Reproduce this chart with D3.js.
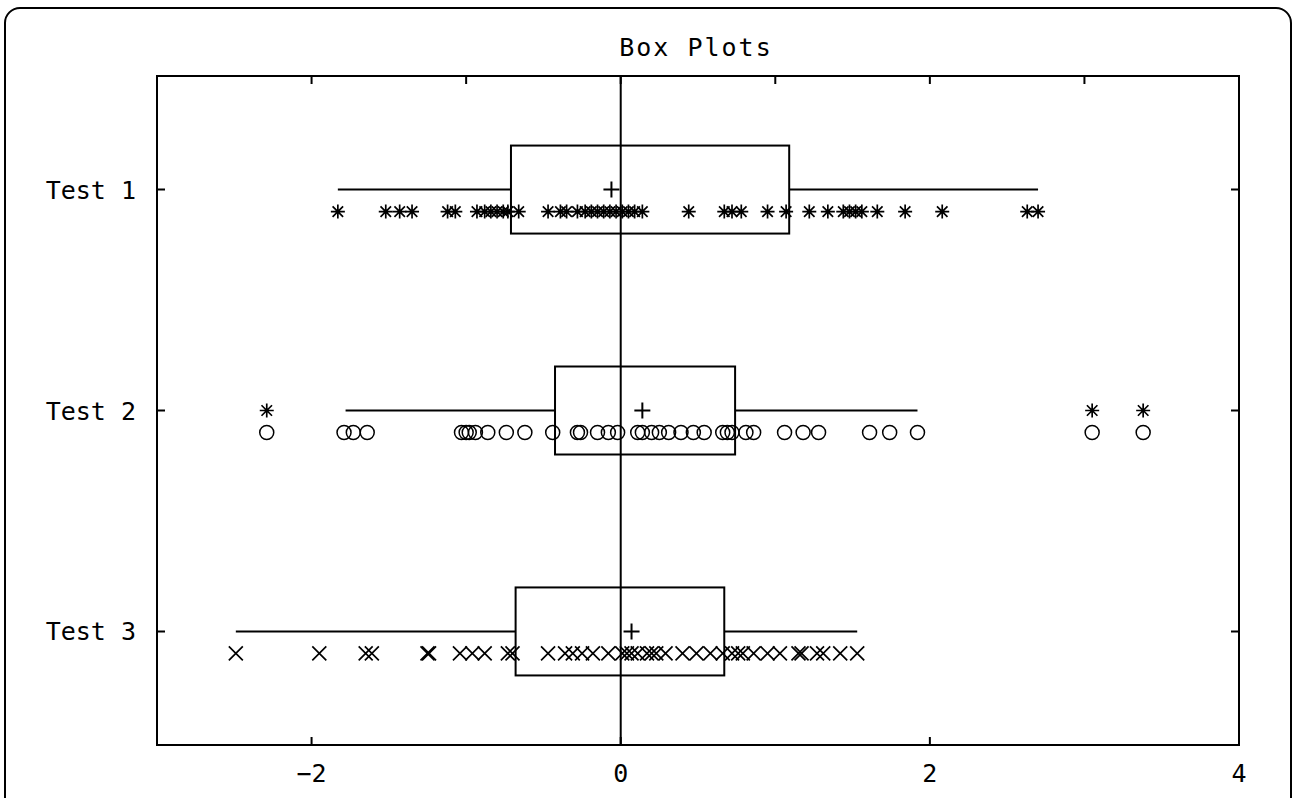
<!DOCTYPE html>
<html>
<head>
<meta charset="utf-8">
<script src="https://cdn.jsdelivr.net/npm/d3@7"></script>
<style>
  body { margin: 0; background: #fff; }
  text { font-family: "DejaVu Sans Mono", monospace; fill: #000; }
</style>
</head>
<body>
<svg class="chart"></svg>
<script>
var width = 1297,
    height = 798;

// data
var categories = ["Test 1", "Test 2", "Test 3"];
var symbols = ["star", "circle", "cross"];

var test1 = [-1.83, -1.52, -1.43, -1.35, -1.12, -1.07, -0.93, -0.88, -0.84, -0.80, -0.76, -0.73,
  -0.66, -0.47, -0.39, -0.35, -0.28, -0.23, -0.19, -0.15, -0.11, -0.07, -0.03, 0.01, 0.05, 0.09,
  0.14, 0.44, 0.67, 0.72, 0.78, 0.95, 1.07, 1.22, 1.34, 1.44, 1.48, 1.52, 1.56, 1.66, 1.84, 2.08,
  2.63, 2.70];
var test2 = [-2.29, -1.79, -1.73, -1.64, -1.03, -1.00, -0.98, -0.94, -0.86, -0.74, -0.62, -0.44,
  -0.28, -0.26, -0.15, -0.08, -0.02, 0.11, 0.14, 0.20, 0.25, 0.31, 0.39, 0.47, 0.54, 0.66, 0.69,
  0.72, 0.81, 0.86, 1.06, 1.18, 1.28, 1.61, 1.74, 1.92, 3.05, 3.38];
var test3 = [-2.49, -1.95, -1.65, -1.61, -1.25, -1.24, -1.04, -0.96, -0.88, -0.73, -0.70, -0.47,
  -0.36, -0.31, -0.25, -0.18, -0.08, 0.01, 0.04, 0.07, 0.11, 0.17, 0.20, 0.23, 0.29, 0.40, 0.49,
  0.58, 0.66, 0.72, 0.76, 0.79, 0.86, 0.95, 1.03, 1.15, 1.17, 1.27, 1.31, 1.42, 1.53];
var samples = [test1, test2, test3];

// box stats: whisker low, q1, q3, whisker high, mean
var whiskerLow = [-1.83, -1.78, -2.49];
var q1 = [-0.71, -0.425, -0.68];
var q3 = [1.09, 0.74, 0.67];
var whiskerHigh = [2.70, 1.92, 1.53];
var means = [-0.06, 0.14, 0.07];
var outliers = [[], [-2.29, 3.05, 3.38], []];

var xDomain = [-3, 4];
var topTicks = [-2, -1, 0, 1, 2, 3];
var bottomTicks = [-2, 0, 2, 4];

// plot area (window.top is read-only, so no "top" here)
var plotL = 157, plotR = 1239, plotT = 76, plotB = 745;

var x = d3.scaleLinear()
    .domain(xDomain)
    .range([plotL, plotR]);
var y = d3.scalePoint()
    .domain(categories)
    .range([plotT, plotB])
    .padding(0.514);

var chart = d3.select(".chart")
    .attr("width", width)
    .attr("height", height);

// window frame
chart.append("rect")
    .attr("x", 5).attr("y", 8)
    .attr("width", 1286).attr("height", 820)
    .attr("rx", 15)
    .attr("fill", "none")
    .attr("stroke", "#000")
    .attr("stroke-width", 2);

chart.append("text")
    .attr("x", 696)
    .attr("y", 56)
    .attr("text-anchor", "middle")
    .attr("font-size", 25)
    .attr("letter-spacing", 2)
    .text("Box Plots");

// plot frame
chart.append("rect")
    .attr("x", plotL).attr("y", plotT)
    .attr("width", plotR - plotL).attr("height", plotB - plotT)
    .attr("fill", "none")
    .attr("stroke", "#000")
    .attr("stroke-width", 2);

// zero line
chart.append("line")
    .attr("x1", x(0)).attr("x2", x(0))
    .attr("y1", plotT).attr("y2", plotB)
    .attr("stroke", "#000")
    .attr("stroke-width", 2);

// ticks
chart.selectAll(".ttick")
    .data(topTicks)
  .enter().append("line")
    .attr("x1", function(d) { return x(d); })
    .attr("x2", function(d) { return x(d); })
    .attr("y1", plotT).attr("y2", plotT + 8)
    .attr("stroke", "#000").attr("stroke-width", 2);

chart.selectAll(".btick")
    .data(bottomTicks)
  .enter().append("line")
    .attr("x1", function(d) { return x(d); })
    .attr("x2", function(d) { return x(d); })
    .attr("y1", plotB).attr("y2", plotB - 8)
    .attr("stroke", "#000").attr("stroke-width", 2);

chart.selectAll(".blabel")
    .data(bottomTicks)
  .enter().append("text")
    .attr("x", function(d) { return x(d); })
    .attr("y", 782)
    .attr("text-anchor", "middle")
    .attr("font-size", 25)
    .text(function(d) { return d < 0 ? "\u2212" + (-d) : d; });

chart.selectAll(".ytick")
    .data(categories)
  .enter().append("path")
    .attr("d", function(d) {
      return "M" + plotL + "," + y(d) + "h8M" + plotR + "," + y(d) + "h-8";
    })
    .attr("stroke", "#000").attr("stroke-width", 2);

chart.selectAll(".ylabel")
    .data(categories)
  .enter().append("text")
    .attr("x", 136)
    .attr("y", function(d) { return y(d) + 9; })
    .attr("text-anchor", "end")
    .attr("font-size", 25)
    .text(function(d) { return d; });

// markers
function marker(type, r) {
  if (type === "circle") {
    return "M" + r + ",0A" + r + "," + r + " 0 1,1 " + (-r) + ",0A" + r + "," + r + " 0 1,1 " + r + ",0";
  }
  if (type === "cross") {
    return "M" + (-r) + "," + (-r) + "L" + r + "," + r + "M" + (-r) + "," + r + "L" + r + "," + (-r);
  }
  var d = r * 0.75;
  return "M0," + (-r) + "V" + r + "M" + (-r) + ",0H" + r +
    "M" + (-d) + "," + (-d) + "L" + d + "," + d + "M" + (-d) + "," + d + "L" + d + "," + (-d);
}

var group = chart.selectAll(".box")
    .data(categories)
  .enter().append("g")
    .attr("transform", function(d) { return "translate(0," + y(d) + ")"; });

group.append("line")
    .attr("x1", function(d, i) { return x(whiskerLow[i]); })
    .attr("x2", function(d, i) { return x(whiskerHigh[i]); })
    .attr("stroke", "#000").attr("stroke-width", 2);

group.append("rect")
    .attr("x", function(d, i) { return x(q1[i]); })
    .attr("y", -44)
    .attr("width", function(d, i) { return x(q3[i]) - x(q1[i]); })
    .attr("height", 88)
    .attr("fill", "#fff")
    .attr("stroke", "#000").attr("stroke-width", 2);

// zero line back over the boxes
group.append("line")
    .attr("x1", x(0)).attr("x2", x(0))
    .attr("y1", -44).attr("y2", 44)
    .attr("stroke", "#000").attr("stroke-width", 2);

group.append("path")
    .attr("transform", function(d, i) { return "translate(" + x(means[i]) + ",0)"; })
    .attr("d", "M-8,0H8M0,-8V8")
    .attr("stroke", "#000").attr("stroke-width", 2);

group.each(function(d, i) {
  var g = d3.select(this);
  g.selectAll(".pt")
      .data(samples[i])
    .enter().append("path")
      .attr("transform", function(v) { return "translate(" + x(v) + ",22)"; })
      .attr("d", marker(symbols[i], 7))
      .attr("fill", "none")
      .attr("stroke", "#000")
      .attr("stroke-width", symbols[i] === "circle" ? 1.5 : 1.7);

  g.selectAll(".out")
      .data(outliers[i])
    .enter().append("path")
      .attr("transform", function(v) { return "translate(" + x(v) + ",0)"; })
      .attr("d", marker("star", 7))
      .attr("fill", "none")
      .attr("stroke", "#000")
      .attr("stroke-width", 1.7);
});
</script>
</body>
</html>
